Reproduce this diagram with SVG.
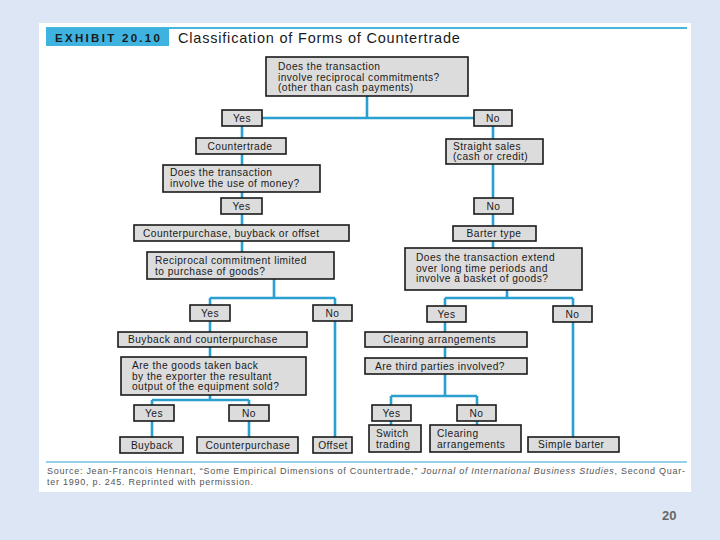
<svg xmlns="http://www.w3.org/2000/svg" width="720" height="540" viewBox="0 0 720 540">
<style>
.bx{fill:#dcdcdc;stroke:#1a1a1a;stroke-width:1.6}
.t{font-family:"Liberation Sans",Arial,sans-serif;font-size:10.2px;letter-spacing:0.45px;fill:#1a1a1a}
.c{text-anchor:middle}
.ln{fill:none;stroke:#2a9fd0;stroke-width:2.6}
.src{font-family:"Liberation Sans",Arial,sans-serif;font-size:9px;fill:#555}
</style>
<rect x="0" y="0" width="720" height="540" fill="#dce6f5"/>
<rect x="39" y="23" width="652" height="469" fill="#ffffff"/>
<line x1="46" y1="28" x2="687" y2="28" stroke="#45b6dc" stroke-width="2"/>
<rect x="46" y="28" width="123" height="18" fill="#3fb3e0"/>
<text x="55" y="42" font-family="'Liberation Sans',Arial,sans-serif" font-size="11.5" font-weight="bold" letter-spacing="2.3" fill="#1a1a1a">EXHIBIT 20.10</text>
<text x="178" y="43" font-family="'Liberation Sans',Arial,sans-serif" font-size="14.5" letter-spacing="0.8" fill="#1a1a1a">Classification of Forms of Countertrade</text>

<g id="connectors">
<path class="ln" d="M367 96V118M262 118H474"/>
<path class="ln" d="M242 126V138M242 154V165M242 192V198M242 214V225M242 241V252"/>
<path class="ln" d="M493 126V139M493 164V198M493 214V226M493 241V248"/>
<path class="ln" d="M274 279V298M210 298H335M210 298V305M335 298V305"/>
<path class="ln" d="M210 321V332M210 347V357M210 395V400M152 400H249M152 400V405M249 400V405"/>
<path class="ln" d="M152 421V437M249 421V437M335 321V437"/>
<path class="ln" d="M507 290V298M445 298H573M445 298V307M573 298V307"/>
<path class="ln" d="M445 322V332M445 347V358M445 374V396M391 396H477M391 396V405M477 396V405"/>
<path class="ln" d="M391 421V425M477 421V425M573 322V437"/>
</g>

<g id="q1"><rect class="bx" x="266" y="57" width="202" height="39"/>
<text class="t" x="278" y="70">Does the transaction</text>
<text class="t" x="278" y="80.5">involve reciprocal commitments?</text>
<text class="t" x="278" y="91">(other than cash payments)</text></g>
<g id="yes1"><rect class="bx" x="222" y="110" width="40" height="16"/><text class="t c" x="242" y="121.5">Yes</text></g>
<g id="no1"><rect class="bx" x="474" y="110" width="38" height="16"/><text class="t c" x="493" y="121.5">No</text></g>
<g id="countertrade"><rect class="bx" x="196" y="138" width="90" height="16"/><text class="t c" x="240" y="149.5">Countertrade</text></g>
<g id="straight"><rect class="bx" x="446" y="139" width="97" height="25"/>
<text class="t" x="453" y="149.5">Straight sales</text>
<text class="t" x="453" y="160">(cash or credit)</text></g>
<g id="q2"><rect class="bx" x="163" y="165" width="157" height="27"/>
<text class="t" x="170" y="176">Does the transaction</text>
<text class="t" x="170" y="187">involve the use of money?</text></g>
<g id="yes2"><rect class="bx" x="221" y="198" width="41" height="16"/><text class="t c" x="241.5" y="209.5">Yes</text></g>
<g id="no2"><rect class="bx" x="474" y="198" width="39" height="16"/><text class="t c" x="493.5" y="209.5">No</text></g>
<g id="cbo"><rect class="bx" x="134" y="225" width="215" height="16"/><text class="t" x="143" y="236.5">Counterpurchase, buyback or offset</text></g>
<g id="barter"><rect class="bx" x="453" y="226" width="83" height="15"/><text class="t c" x="494" y="237">Barter type</text></g>
<g id="q3"><rect class="bx" x="147" y="252" width="187" height="27"/>
<text class="t" x="155" y="264">Reciprocal commitment limited</text>
<text class="t" x="155" y="274.5">to purchase of goods?</text></g>
<g id="q4"><rect class="bx" x="405" y="248" width="177" height="42"/>
<text class="t" x="416" y="261">Does the transaction extend</text>
<text class="t" x="416" y="271.5">over long time periods and</text>
<text class="t" x="416" y="282">involve a basket of goods?</text></g>
<g id="yes3"><rect class="bx" x="190" y="305" width="40" height="16"/><text class="t c" x="210" y="316.5">Yes</text></g>
<g id="no3"><rect class="bx" x="313" y="305" width="39" height="16"/><text class="t c" x="332.5" y="316.5">No</text></g>
<g id="yes4"><rect class="bx" x="427" y="306" width="39" height="16"/><text class="t c" x="446.5" y="317.5">Yes</text></g>
<g id="no4"><rect class="bx" x="553" y="306" width="39" height="16"/><text class="t c" x="572.5" y="317.5">No</text></g>
<g id="bc"><rect class="bx" x="118" y="332" width="189" height="15"/><text class="t" x="128" y="343">Buyback and counterpurchase</text></g>
<g id="clear1"><rect class="bx" x="365" y="332" width="162" height="15"/><text class="t" x="383" y="343">Clearing arrangements</text></g>
<g id="q5"><rect class="bx" x="121" y="357" width="185" height="38"/>
<text class="t" x="132" y="369">Are the goods taken back</text>
<text class="t" x="132" y="379.5">by the exporter the resultant</text>
<text class="t" x="132" y="390">output of the equipment sold?</text></g>
<g id="q6"><rect class="bx" x="365" y="358" width="162" height="16"/><text class="t" x="375" y="369.5">Are third parties involved?</text></g>
<g id="yes5"><rect class="bx" x="134" y="405" width="40" height="16"/><text class="t c" x="154" y="416.5">Yes</text></g>
<g id="no5"><rect class="bx" x="229" y="405" width="40" height="16"/><text class="t c" x="249" y="416.5">No</text></g>
<g id="yes6"><rect class="bx" x="372" y="405" width="39" height="16"/><text class="t c" x="391.5" y="416.5">Yes</text></g>
<g id="no6"><rect class="bx" x="457" y="405" width="39" height="16"/><text class="t c" x="476.5" y="416.5">No</text></g>
<g id="buyback"><rect class="bx" x="120" y="437" width="63" height="16"/><text class="t c" x="152" y="448.5">Buyback</text></g>
<g id="counterpurchase"><rect class="bx" x="197" y="437" width="101" height="16"/><text class="t c" x="248" y="448.5">Counterpurchase</text></g>
<g id="offset"><rect class="bx" x="313" y="437" width="39" height="16"/><text class="t c" x="333" y="448.5">Offset</text></g>
<g id="switch"><rect class="bx" x="369" y="425" width="52" height="27"/>
<text class="t" x="376" y="437">Switch</text>
<text class="t" x="376" y="447.5">trading</text></g>
<g id="clear2"><rect class="bx" x="430" y="425" width="91" height="27"/>
<text class="t" x="437" y="437">Clearing</text>
<text class="t" x="437" y="447.5">arrangements</text></g>
<g id="simple"><rect class="bx" x="528" y="437" width="91" height="15"/><text class="t" x="538" y="448">Simple barter</text></g>

<line x1="46" y1="462" x2="687" y2="462" stroke="#6fc3e2" stroke-width="1.5"/>
<text class="src" x="47" y="474" textLength="638" lengthAdjust="spacing">Source: Jean-Francois Hennart, “Some Empirical Dimensions of Countertrade,” <tspan font-style="italic">Journal of International Business Studies</tspan>, Second Quar-</text>
<text class="src" x="47" y="485" textLength="206" lengthAdjust="spacing">ter 1990, p. 245. Reprinted with permission.</text>
<text x="662" y="520" font-family="'Liberation Sans',Arial,sans-serif" font-size="13" font-weight="bold" fill="#666">20</text>
</svg>
